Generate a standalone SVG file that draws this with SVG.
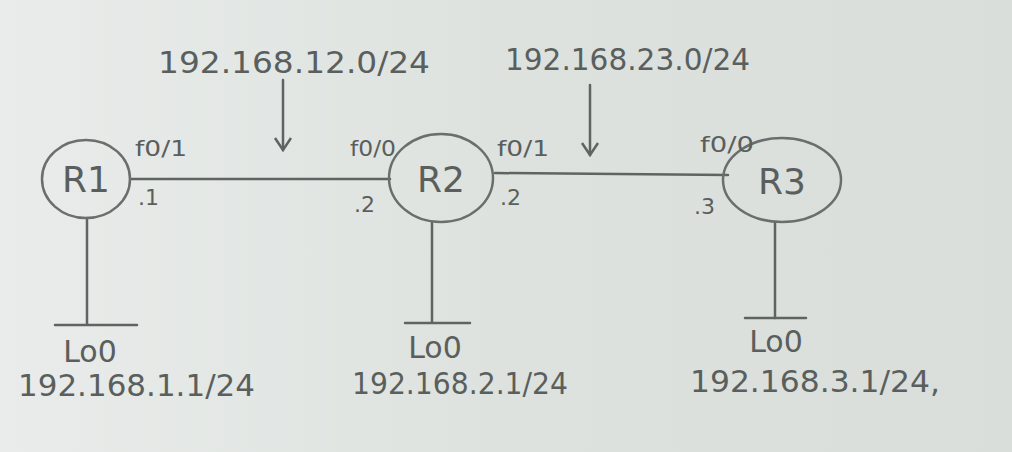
<svg xmlns="http://www.w3.org/2000/svg" width="1012" height="452" viewBox="0 0 1012 452">
<defs>
<linearGradient id="bg" x1="0" y1="0" x2="1" y2="0">
<stop offset="0" stop-color="#e9ecea"/>
<stop offset="0.5" stop-color="#dde2df"/>
<stop offset="1" stop-color="#d9dedb"/>
</linearGradient>
<marker id="arr" viewBox="0 0 20 20" refX="18" refY="10" markerWidth="20" markerHeight="20" markerUnits="userSpaceOnUse" orient="auto">
<path d="M6,2 L18,10 L6,18" fill="none" stroke="#5f6462" stroke-width="2.5"/>
</marker>
<style>
.ln{stroke:#5f6462;stroke-width:2.5;fill:none;stroke-linecap:round}
.nd{stroke:#6a6f6d;stroke-width:2.5;fill:none}
.t{font-family:"DejaVu Sans","Liberation Sans",sans-serif;fill:#5a5f5d}
.big{font-size:30px}
.node{font-size:36px;text-anchor:middle}
.sm{font-size:22px}
</style>
</defs>
<rect width="1012" height="452" fill="url(#bg)"/>
<g id="connectors">
<line class="ln" x1="130" y1="179" x2="390" y2="179"/>
<line class="ln" x1="495" y1="173" x2="728" y2="175"/>
<line class="ln" x1="87" y1="218" x2="87" y2="324"/>
<line class="ln" x1="55" y1="325" x2="137" y2="325"/>
<line class="ln" x1="432" y1="222" x2="432" y2="322"/>
<line class="ln" x1="405" y1="323" x2="470" y2="323"/>
<line class="ln" x1="775" y1="223" x2="775" y2="318"/>
<line class="ln" x1="745" y1="318" x2="806" y2="318"/>
<line class="ln" x1="283" y1="80" x2="283" y2="150" marker-end="url(#arr)"/>
<line class="ln" x1="590" y1="85" x2="590" y2="155" marker-end="url(#arr)"/>
</g>
<g id="net12"><text class="t big" x="158" y="73" textLength="272" lengthAdjust="spacingAndGlyphs">192.168.12.0/24</text></g>
<g id="net23"><text class="t big" x="505" y="70" textLength="245" lengthAdjust="spacingAndGlyphs">192.168.23.0/24</text></g>
<g id="R1">
<ellipse class="nd" cx="86" cy="179" rx="44" ry="39"/>
<text class="t node" x="86" y="192">R1</text>
<text class="t sm" x="135" y="156" textLength="52" lengthAdjust="spacingAndGlyphs">f0/1</text>
<text class="t sm" x="138" y="205">.1</text>
<text class="t big" x="90" y="362" text-anchor="middle">Lo0</text>
<text class="t big" x="18" y="396" textLength="237" lengthAdjust="spacingAndGlyphs">192.168.1.1/24</text>
</g>
<g id="R2">
<ellipse class="nd" cx="441" cy="178" rx="52" ry="44"/>
<text class="t node" x="441" y="192">R2</text>
<text class="t sm" x="350" y="156" textLength="46" lengthAdjust="spacingAndGlyphs">f0/0</text>
<text class="t sm" x="354" y="212">.2</text>
<text class="t sm" x="497" y="156" textLength="52" lengthAdjust="spacingAndGlyphs">f0/1</text>
<text class="t sm" x="500" y="205">.2</text>
<text class="t big" x="435" y="358" text-anchor="middle">Lo0</text>
<text class="t big" x="352" y="394" textLength="216" lengthAdjust="spacingAndGlyphs">192.168.2.1/24</text>
</g>
<g id="R3">
<ellipse class="nd" cx="782" cy="180" rx="59" ry="42"/>
<text class="t node" x="782" y="194">R3</text>
<text class="t sm" x="700" y="152" textLength="54" lengthAdjust="spacingAndGlyphs">f0/0</text>
<text class="t sm" x="694" y="214">.3</text>
<text class="t big" x="776" y="352" text-anchor="middle">Lo0</text>
<text class="t big" x="690" y="392" textLength="250" lengthAdjust="spacingAndGlyphs">192.168.3.1/24,</text>
</g>
</svg>
